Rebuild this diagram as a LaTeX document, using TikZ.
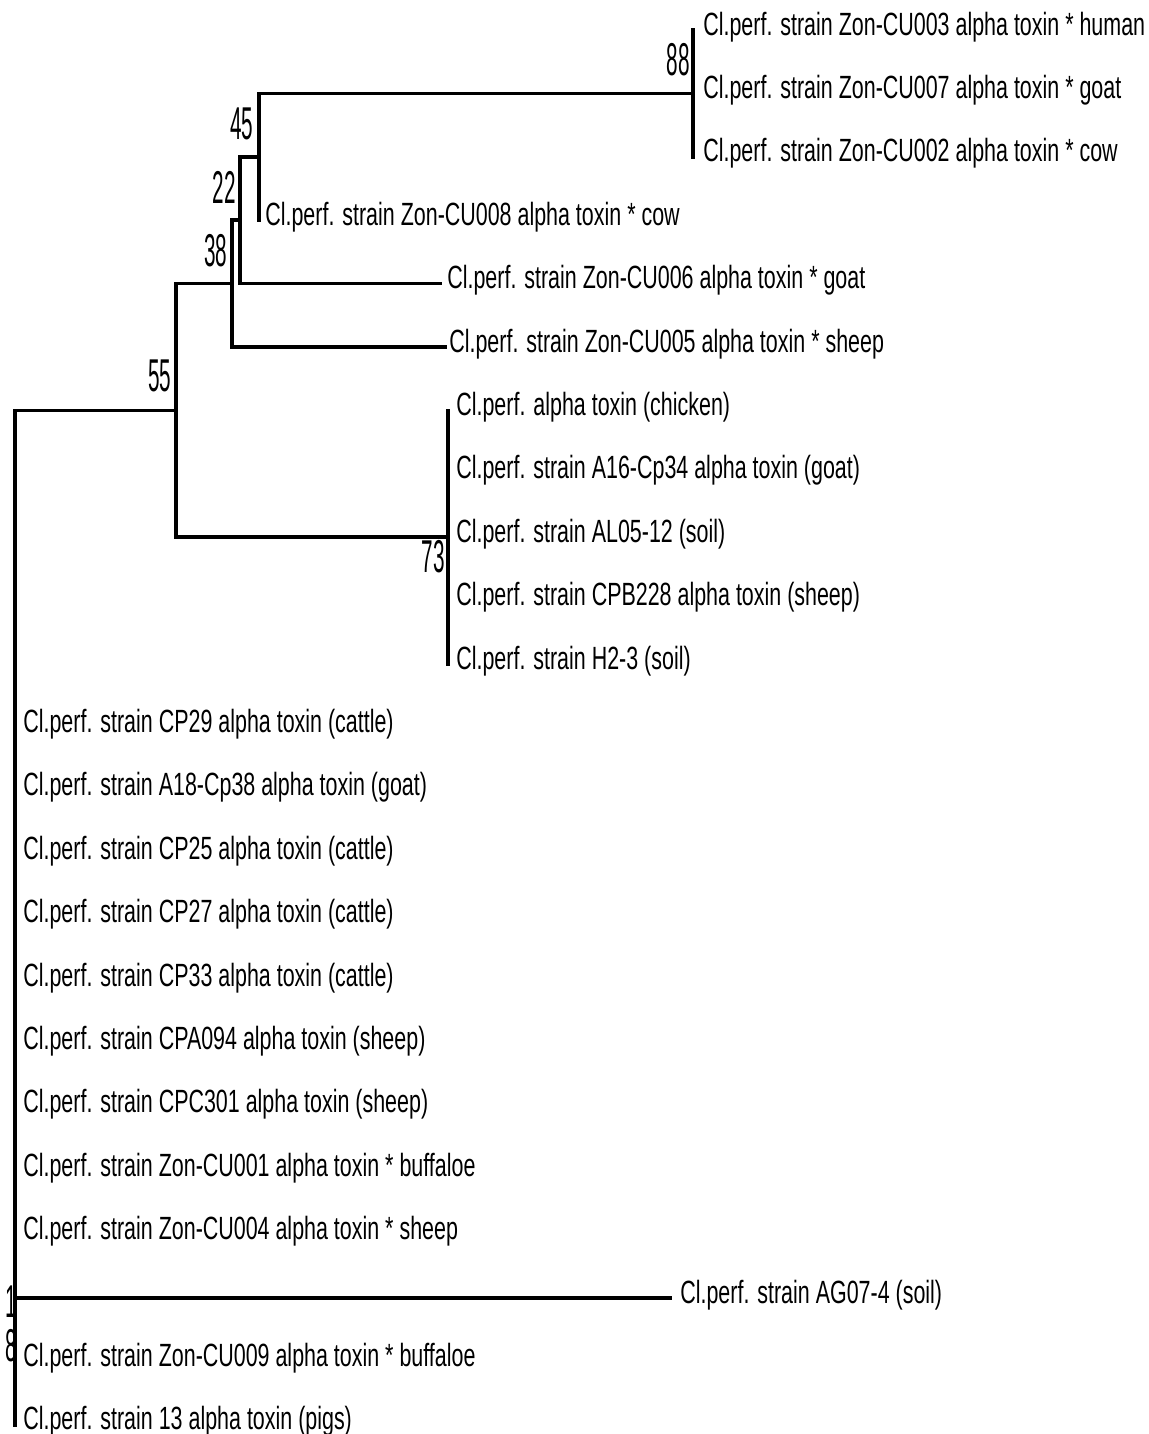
\documentclass[tikz,border=0pt]{standalone}
\usepackage{fontspec}
\newfontfamily\taxonfont[FakeStretch=0.667]{Liberation Sans}
\newfontfamily\bootfont[FakeStretch=0.45]{Liberation Sans}
\tikzset{
  branch/.style={line width=2pt, line cap=rect, draw=black},
  taxon/.style={
    anchor=base west, inner sep=0pt,
    font=\taxonfont\fontsize{18.3pt}{20pt}\selectfont
  },
  bootval/.style={
    inner sep=0pt, align=center,
    font=\bootfont\fontsize{26.2pt}{25pt}\selectfont
  }
}

\begin{document}
\begin{tikzpicture}[x=0.02cm, y=-0.02cm]
  \useasboundingbox (0,0) rectangle (1149,1434);

  % internal nodes of the tree
  \coordinate (root) at (15,410.4);
  \coordinate (n55) at (176,410.4);
  \coordinate (n38) at (232,283.6);
  \coordinate (n22) at (240,220.2);
  \coordinate (n45) at (259,156.8);
  \coordinate (n88) at (693,93.4);
  \coordinate (n73) at (448,537.2);

  % leaves: index / branch end / text start / label
  \foreach \i/\ex/\tx/\lab in {
    0/693/703/{Cl.perf. strain Zon-CU003 alpha toxin * human},
    1/693/703/{Cl.perf. strain Zon-CU007 alpha toxin * goat},
    2/693/703/{Cl.perf. strain Zon-CU002 alpha toxin * cow},
    3/259/265/{Cl.perf. strain Zon-CU008 alpha toxin * cow},
    4/440/447/{Cl.perf. strain Zon-CU006 alpha toxin * goat},
    5/445/449/{Cl.perf. strain Zon-CU005 alpha toxin * sheep},
    6/448/456/{Cl.perf. alpha toxin (chicken)},
    7/448/456/{Cl.perf. strain A16-Cp34 alpha toxin (goat)},
    8/448/456/{Cl.perf. strain AL05-12 (soil)},
    9/448/456/{Cl.perf. strain CPB228 alpha toxin (sheep)},
    10/448/456/{Cl.perf. strain H2-3 (soil)},
    11/15/23/{Cl.perf. strain CP29 alpha toxin (cattle)},
    12/15/23/{Cl.perf. strain A18-Cp38 alpha toxin (goat)},
    13/15/23/{Cl.perf. strain CP25 alpha toxin (cattle)},
    14/15/23/{Cl.perf. strain CP27 alpha toxin (cattle)},
    15/15/23/{Cl.perf. strain CP33 alpha toxin (cattle)},
    16/15/23/{Cl.perf. strain CPA094 alpha toxin (sheep)},
    17/15/23/{Cl.perf. strain CPC301 alpha toxin (sheep)},
    18/15/23/{Cl.perf. strain Zon-CU001 alpha toxin * buffaloe},
    19/15/23/{Cl.perf. strain Zon-CU004 alpha toxin * sheep},
    20/670/680/{Cl.perf. strain AG07-4 (soil)},
    21/15/23/{Cl.perf. strain Zon-CU009 alpha toxin * buffaloe},
    22/15/23/{Cl.perf. strain 13 alpha toxin (pigs)}}
  {
    \coordinate (t\i) at (\ex,{30+63.4*\i});
    \node[taxon] (l\i) at (\tx,{35+63.4*\i}) {\lab};
  }

  % branches
  \draw[branch] (root) -- (n55);
  \draw[branch] (n55) |- (n38);
  \draw[branch] (n55) |- (n73);
  \draw[branch] (n38) |- (n22);
  \draw[branch] (n38) |- (t5);
  \draw[branch] (n22) |- (n45);
  \draw[branch] (n22) |- (t4);
  \draw[branch] (n45) |- (n88);
  \draw[branch] (n45) |- (t3);
  \draw[branch] (n88) |- (t0);
  \draw[branch] (n88) |- (t2);
  \draw[branch] (n73) |- (t6);
  \draw[branch] (n73) |- (t10);
  \draw[branch] (root) |- (t20);
  \draw[branch] (root) |- (t22);

  % bootstrap values
  \node[bootval] (b88) at (678.5,59.5) {88};
  \node[bootval] (b45) at (242,124) {45};
  \node[bootval] (b22) at (224.5,187.5) {22};
  \node[bootval] (b38) at (216,251) {38};
  \node[bootval] (b55) at (160,376) {55};
  \node[bootval] (b73) at (433.5,557) {73};
  \node[bootval] (b18) at (11.5,1324) {1\\8};
\end{tikzpicture}
\end{document}
